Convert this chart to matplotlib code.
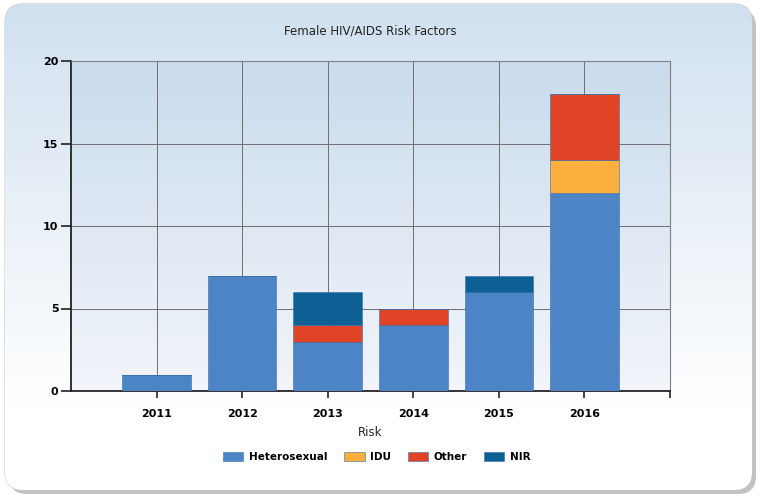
import numpy as np
import matplotlib.pyplot as plt
from matplotlib.patches import FancyBboxPatch

years = ['2011', '2012', '2013', '2014', '2015', '2016']
heterosexual = [1, 7, 3, 4, 6, 12]
idu = [0, 0, 0, 0, 0, 2]
other = [0, 0, 1, 1, 0, 4]
nir = [0, 0, 2, 0, 1, 0]

series = [('Heterosexual', heterosexual, '#4c84c6'),
          ('IDU', idu, '#fbb03e'),
          ('Other', other, '#e04326'),
          ('NIR', nir, '#0d5f94')]

fig = plt.figure(figsize=(7.65, 5), dpi=100)
fig.patch.set_facecolor('white')

# panel background with shadow and gradient
bg = fig.add_axes([0, 0, 1, 1])
bg.set_xlim(0, 765)
bg.set_ylim(500, 0)
bg.axis('off')
shadow = FancyBboxPatch((9, 9), 747, 485, boxstyle='round,pad=0,rounding_size=18',
                        fc='#9a9a9a', ec='none', alpha=0.6)
bg.add_patch(shadow)
panel = FancyBboxPatch((5, 4), 747, 486, boxstyle='round,pad=0,rounding_size=18',
                       fc='none', ec='#c8c8c8', lw=0.8)
bg.add_patch(panel)
grad = np.linspace(0, 1, 256).reshape(-1, 1)
top = np.array([0.82, 0.88, 0.94])
bot = np.array([1.0, 1.0, 1.0])
img = top + (bot - top) * np.clip(grad * 1.2, 0, 1)[..., None]
im = bg.imshow(img, extent=[5, 752, 490, 4], aspect='auto', zorder=1)
im.set_clip_path(panel)

ax = fig.add_axes([0.0928, 0.218, 0.783, 0.66])
x = np.arange(len(years))
# plot area gradient
g2 = np.linspace(0, 1, 256).reshape(-1, 1)
t2 = np.array([0.79, 0.86, 0.93])
b2 = np.array([0.95, 0.96, 0.98])
img2 = t2 + (b2 - t2) * g2[..., None]
ax.imshow(img2, extent=[-1, 6, 0, 20], aspect='auto', zorder=0)

bottom = np.zeros(len(years))
for name, vals, col in series:
    ax.bar(x, vals, 0.8, bottom=bottom, color=col, label=name,
           edgecolor='#3a6ea8', linewidth=0.4, zorder=3)
    bottom += np.array(vals)

ax.set_xlim(-1, 6)
ax.set_ylim(0, 20)
ax.set_yticks([0, 5, 10, 15, 20])
ax.set_xticks(list(x) + [6])
ax.set_xticklabels(years + [''])
ax.grid(True, color='#6f6f6f', lw=0.7, zorder=1)
ax.set_axisbelow(True)
for lab in ax.get_xticklabels() + ax.get_yticklabels():
    lab.set_fontweight('bold')
    lab.set_fontsize(8)
ax.tick_params(axis='x', length=5, width=1.2, color='#222222', pad=8)
ax.tick_params(axis='y', length=7, width=1.2, color='#222222', pad=2)
ax.spines['left'].set_color('#222222')
ax.spines['left'].set_linewidth(1.3)
ax.spines['bottom'].set_color('#222222')
ax.spines['bottom'].set_linewidth(1.3)
ax.spines['right'].set_color('#7f7f7f')
ax.spines['top'].set_color('#7f7f7f')

ax.set_title('Female HIV/AIDS Risk Factors', fontsize=8.5, pad=19, color='#222222')
ax.set_xlabel('Risk', fontsize=8.5, labelpad=5, color='#222222')
ax.legend(loc='center', bbox_to_anchor=(0.51, -0.2), ncol=4, frameon=False,
          prop={'weight': 'bold', 'size': 7.5}, handlelength=2.0, handleheight=1.0,
          columnspacing=1.6, handletextpad=0.5)

fig.savefig('out.png', dpi=100)
